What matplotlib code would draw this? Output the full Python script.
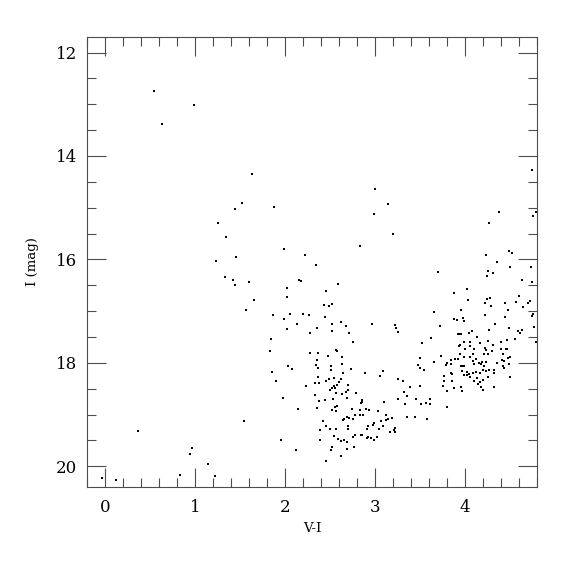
import matplotlib
matplotlib.use("Agg")
import matplotlib.pyplot as plt
from matplotlib.ticker import MultipleLocator

# colour-magnitude diagram, values
vi_bright = [0.54, 0.99, 0.63, 1.63]
i_bright = [12.75, 13.01, 13.38, 14.34]

vi_branch = [1.52, 1.44, 1.88, 1.25, 1.34, 1.99, 2.22, 1.46, 1.23, 1.33, 1.42, 1.44,
             1.60, 2.15, 2.18, 2.02, 2.02, 1.66, 1.57, 1.87, 1.99, 2.06, 2.20, 2.27,
             2.13, 2.02, 1.84, 1.83, 2.03, 2.08, 1.85, 1.90, 2.23, 1.98, 2.14, 1.54,
             0.37, 1.96, 2.12, 0.97, 0.94, 1.14, 0.83, 1.22, -0.03, 0.12]
i_branch = [14.90, 15.02, 14.98, 15.30, 15.56, 15.79, 15.91, 15.96, 16.03, 16.34, 16.39, 16.49,
            16.43, 16.40, 16.41, 16.56, 16.73, 16.79, 16.97, 17.08, 17.15, 17.05, 17.06, 17.08,
            17.24, 17.35, 17.53, 17.77, 18.07, 18.12, 18.17, 18.35, 18.44, 18.67, 18.89, 19.13,
            19.31, 19.50, 19.68, 19.64, 19.76, 19.95, 20.17, 20.19, 20.22, 20.27]

vi_mid = [3.00, 3.14, 2.99, 3.20, 2.83, 2.34, 2.59, 2.45, 2.43, 2.49, 2.52, 2.44,
          2.52, 2.62, 2.68, 2.97, 3.22, 3.23, 3.25, 2.35, 2.28, 2.52, 2.71, 2.75]
i_mid = [14.63, 14.92, 15.13, 15.51, 15.75, 16.10, 16.48, 16.61, 16.88, 16.91, 16.87, 17.11,
         17.24, 17.21, 17.29, 17.25, 17.27, 17.33, 17.41, 17.32, 17.42, 17.39, 17.43, 17.60]

vi_rgb = [2.28, 2.37, 2.57, 2.58, 2.48, 2.63, 2.35, 2.34, 2.37, 2.51, 2.63, 2.51,
          2.73, 2.64, 2.37, 2.33, 2.38, 2.46, 2.49, 2.54, 2.62, 2.60, 2.58, 2.70,
          2.54, 2.52, 2.56, 2.50, 2.57, 2.68, 2.70, 2.79, 2.33, 2.63, 2.44, 2.38,
          2.53, 2.69, 2.35, 2.55, 2.58, 2.52, 2.57, 2.74, 2.83, 2.78, 2.83, 2.42,
          2.69, 2.66, 2.64, 2.71, 2.75, 2.46, 2.50, 2.39, 2.57, 2.70, 2.70, 2.54,
          2.78, 2.76, 2.59, 2.62, 2.66, 2.69, 2.39, 2.52, 2.51, 2.69, 2.77, 2.62,
          2.45,
          3.09, 2.89, 3.06, 3.25, 3.31, 3.39, 3.32, 3.26, 3.36, 2.86, 2.85, 2.84,
          3.10, 3.33, 2.90, 2.93, 3.03, 3.12, 2.87, 3.14, 3.12, 3.19, 3.07, 3.36,
          3.44, 2.99, 2.98, 2.92, 2.91, 3.04, 3.09, 3.22, 3.21, 3.22, 3.17, 2.84,
          2.86, 2.92, 2.91, 2.96, 2.99, 3.02]
i_rgb = [17.80, 17.81, 17.75, 17.78, 17.86, 17.88, 17.95, 18.05, 18.09, 18.06, 18.03, 18.13,
         18.12, 18.20, 18.27, 18.39, 18.39, 18.36, 18.31, 18.30, 18.32, 18.37, 18.42, 18.43,
         18.45, 18.49, 18.49, 18.53, 18.58, 18.56, 18.52, 18.59, 18.63, 18.60, 18.72, 18.74,
         18.69, 18.67, 18.87, 18.85, 18.83, 18.92, 18.93, 18.89, 18.92, 19.01, 19.01, 19.12,
         19.05, 19.09, 19.10, 19.07, 19.09, 19.23, 19.27, 19.30, 19.27, 19.23, 19.28, 19.41,
         19.39, 19.44, 19.47, 19.52, 19.50, 19.53, 19.50, 19.63, 19.68, 19.66, 19.63, 19.80,
         19.90,
         18.15, 18.20, 18.25, 18.31, 18.36, 18.47, 18.56, 18.69, 18.64, 18.72, 18.76, 18.78,
         18.76, 18.80, 18.89, 18.92, 18.93, 19.01, 19.00, 19.09, 19.11, 19.06, 19.12, 19.05,
         19.04, 19.17, 19.21, 19.23, 19.28, 19.27, 19.23, 19.25, 19.30, 19.33, 19.33, 19.40,
         19.40, 19.44, 19.46, 19.46, 19.50, 19.44]

vi_clump = [3.70, 3.88, 4.02, 4.03, 3.66, 3.95, 3.88, 3.91, 3.99, 3.98, 3.72, 3.62,
            3.52, 3.92, 3.94, 3.96, 4.04, 4.08, 3.99, 4.05, 3.93, 3.94, 4.06, 4.00,
            4.10, 4.09, 3.94, 3.73, 3.99, 3.50, 3.92, 3.89, 4.05, 3.84, 3.80, 3.48,
            3.50, 3.54, 3.66, 3.79, 3.84, 3.95, 3.97, 3.99, 4.09, 3.97, 4.02, 4.04,
            4.09, 4.05, 3.77, 3.84, 3.85, 3.99, 4.02, 4.10, 3.85, 3.77, 3.50, 3.75,
            3.88, 3.96, 3.97, 3.80, 3.45, 3.61, 3.51, 3.57, 3.61, 3.80, 3.58,
            4.74, 4.38, 4.79, 4.75, 4.27, 4.49, 4.52, 4.23, 4.36, 4.50, 4.73, 4.26,
            4.31, 4.24, 4.63, 4.74, 4.60, 4.28, 4.24, 4.22, 4.29, 4.72, 4.70, 4.44,
            4.57, 4.64, 4.48, 4.22, 4.44, 4.75, 4.74, 4.33, 4.77, 4.59, 4.61, 4.49,
            4.63, 4.13, 4.27, 4.40, 4.79, 4.56, 4.47, 4.26, 4.17, 4.22, 4.31, 4.23,
            4.30, 4.40, 4.25, 4.47, 4.46, 4.12, 4.21, 4.42, 4.50, 4.48, 4.16, 4.19,
            4.10, 4.23, 4.36, 4.41, 4.43, 4.18, 4.42, 4.21, 4.23, 4.27, 4.32, 4.49,
            4.12, 4.17, 4.20, 4.32, 4.43, 4.20, 4.26, 4.13, 4.17, 4.50, 4.14, 4.18,
            4.20, 4.32]
i_clump = [16.25, 16.64, 16.58, 16.79, 17.02, 16.98, 17.15, 17.17, 17.20, 17.14, 17.29, 17.52,
           17.62, 17.44, 17.44, 17.45, 17.43, 17.39, 17.59, 17.59, 17.68, 17.66, 17.68, 17.73,
           17.74, 17.83, 17.82, 17.87, 17.88, 17.91, 17.93, 17.93, 17.89, 17.95, 18.00, 18.04,
           18.09, 18.13, 17.98, 18.05, 18.02, 18.07, 18.07, 18.07, 17.97, 18.16, 18.17, 18.22,
           18.20, 18.27, 18.26, 18.19, 18.22, 18.24, 18.24, 18.35, 18.36, 18.35, 18.45, 18.45,
           18.49, 18.46, 18.55, 18.55, 18.69, 18.69, 18.80, 18.77, 18.80, 18.86, 19.08,
           14.28, 15.08, 15.08, 15.17, 15.29, 15.84, 15.88, 15.91, 16.05, 16.15, 16.15, 16.23,
           16.26, 16.32, 16.39, 16.43, 16.70, 16.75, 16.77, 16.85, 16.90, 16.81, 16.85, 16.85,
           16.82, 16.92, 16.97, 17.07, 17.12, 17.06, 17.10, 17.25, 17.30, 17.39, 17.42, 17.33,
           17.36, 17.50, 17.37, 17.60, 17.60, 17.54, 17.56, 17.57, 17.62, 17.72, 17.66, 17.76,
           17.77, 17.73, 17.82, 17.73, 17.73, 17.93, 17.83, 17.82, 17.89, 17.91, 18.00, 17.98,
           18.03, 17.99, 18.01, 17.94, 17.97, 18.02, 18.07, 18.06, 18.15, 18.13, 18.13, 18.02,
           18.18, 18.19, 18.14, 18.20, 18.09, 18.33, 18.27, 18.29, 18.37, 18.27, 18.41, 18.46,
           18.53, 18.46]

vi = vi_bright + vi_branch + vi_mid + vi_rgb + vi_clump
imag = i_bright + i_branch + i_mid + i_rgb + i_clump

plt.rcParams["font.family"] = ["DejaVu Serif"]

fig = plt.figure(figsize=(5.75, 5.75), dpi=100)
ax = fig.add_axes([87 / 575, 1 - 487 / 575, 450 / 575, 450 / 575])

ax.plot(vi, imag, linestyle="none", marker="s", markersize=1.6,
        color="black", markeredgewidth=0)

ax.set_xlim(-0.2, 4.8)
ax.set_ylim(20.4, 11.7)

ax.xaxis.set_major_locator(MultipleLocator(1))
ax.xaxis.set_minor_locator(MultipleLocator(0.2))
ax.yaxis.set_major_locator(MultipleLocator(2))
ax.yaxis.set_minor_locator(MultipleLocator(0.5))

ax.tick_params(which="both", direction="in", top=True, right=True,
               color="0.3", width=0.8)
ax.tick_params(which="major", length=13.5, labelsize=12)
ax.tick_params(which="minor", length=6.8)
ax.tick_params(axis="x", which="major", pad=9)
ax.tick_params(axis="y", which="major", pad=7)

for sp in ax.spines.values():
    sp.set_color("0.3")
    sp.set_linewidth(0.8)

ax.set_xlabel("V-I", fontsize=9.5, labelpad=4)
ax.set_ylabel("I (mag)", fontsize=9.5, labelpad=12)

fig.savefig("out.png", dpi=100)
